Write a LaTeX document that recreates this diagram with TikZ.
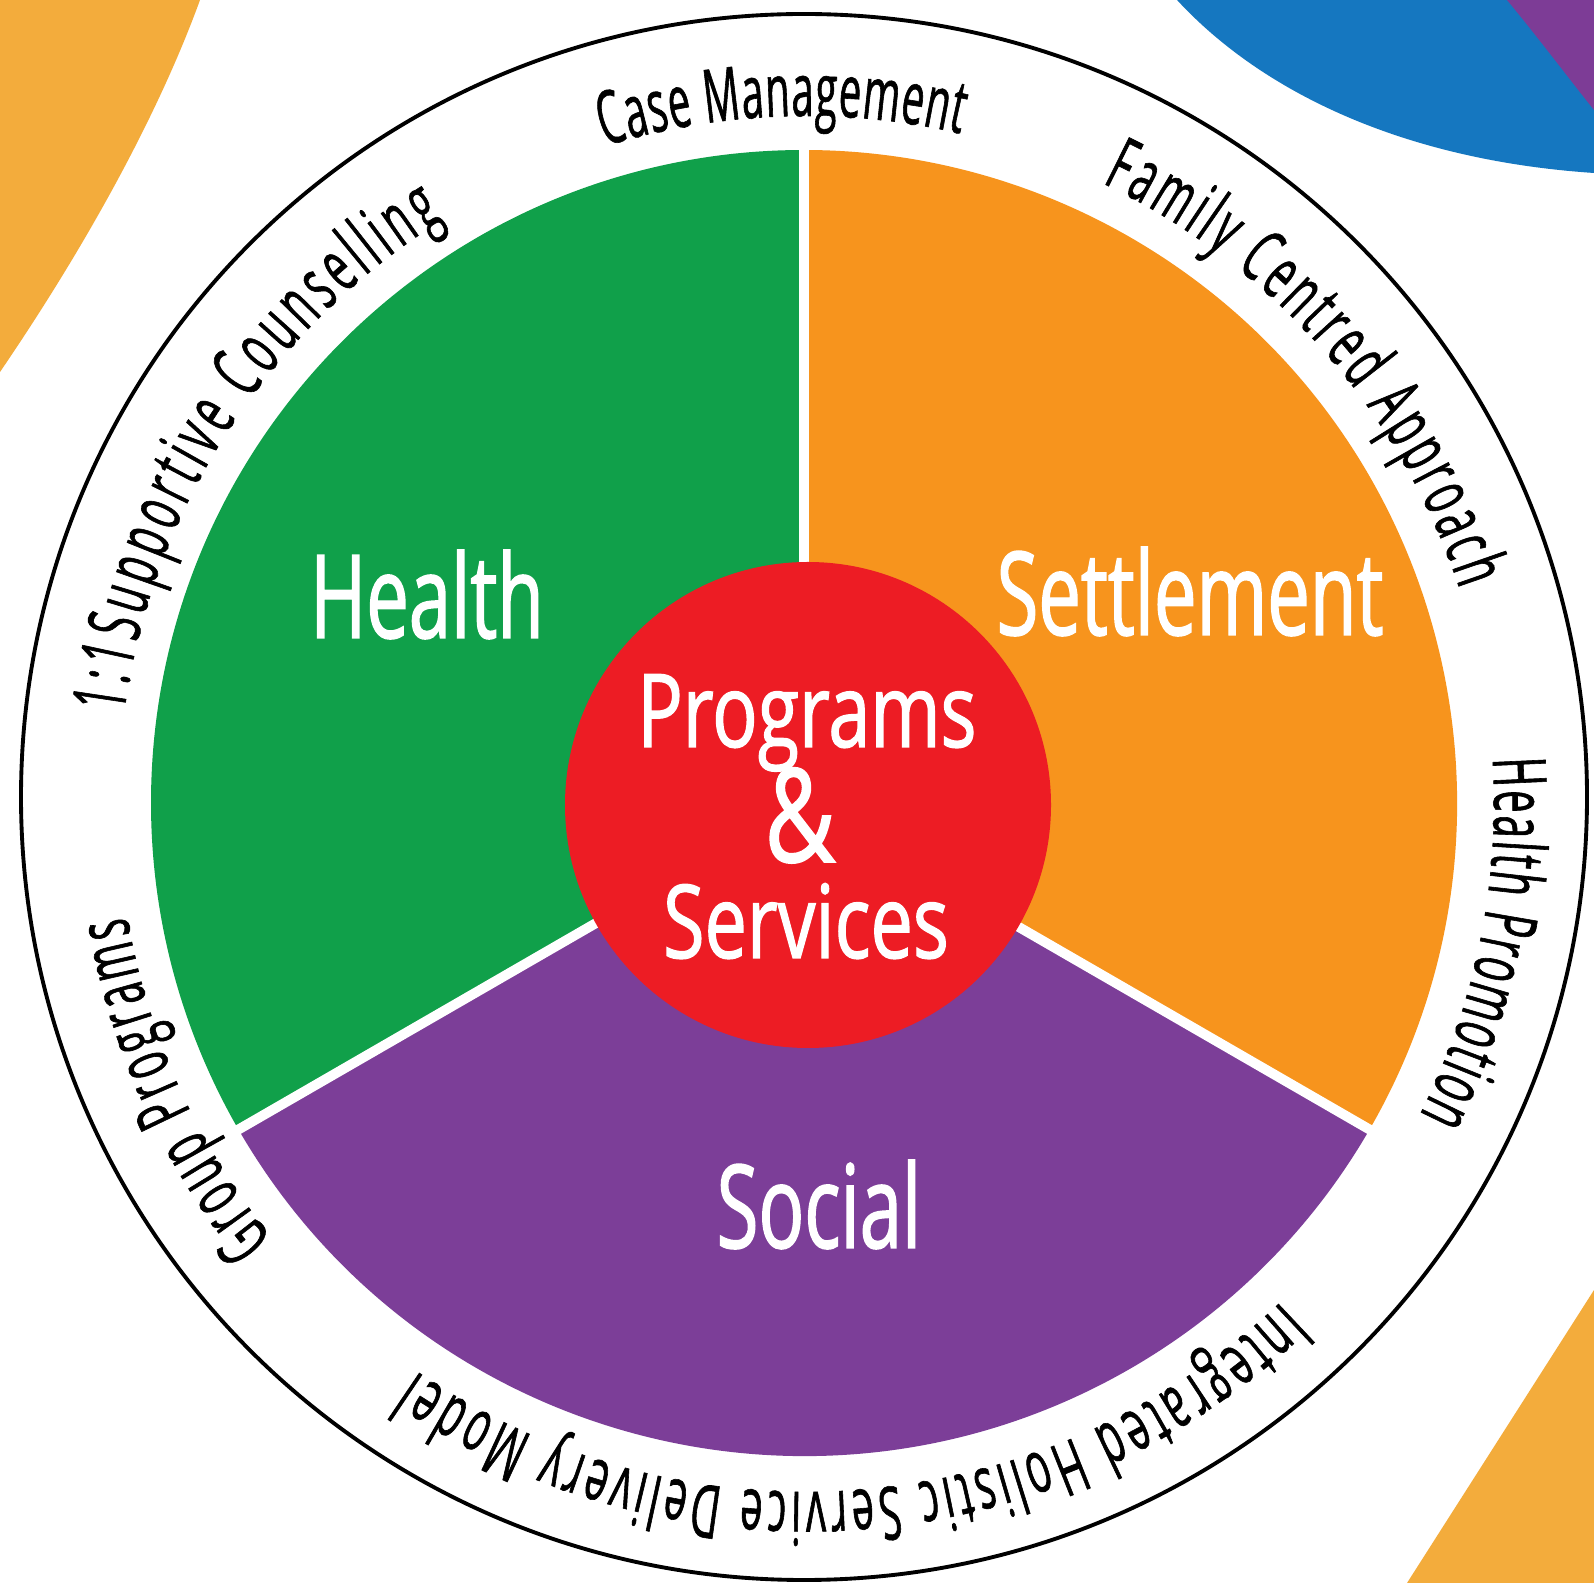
\documentclass[tikz,border=0pt]{standalone}
\usepackage{fontspec}
\usepackage{tikz}
\usetikzlibrary{decorations.text}
\newfontfamily\ringfont{Open Sans}[FakeStretch=0.54, FakeBold=0.8]
\newfontfamily\sectorfont{Open Sans}[FakeStretch=0.655, FakeBold=1.2]
\newfontfamily\hubfont{Open Sans}[FakeStretch=0.74, FakeBold=1.2]
\newcommand{\ringtext}{\ringfont\fontsize{21pt}{25pt}\selectfont}
\definecolor{healthgreen}{RGB}{16,160,74}
\definecolor{settleorange}{RGB}{247,148,29}
\definecolor{socialpurple}{RGB}{124,62,152}
\definecolor{hubred}{RGB}{237,28,36}
\definecolor{cornerorange}{RGB}{243,172,60}
\definecolor{cornerblue}{RGB}{21,119,192}
\definecolor{cornerpurple}{RGB}{125,60,150}

\begin{document}
\begin{tikzpicture}[x=0.01cm, y=0.01cm,
    sectorlabel/.style={text=white, font=\sectorfont\fontsize{33pt}{38pt}\selectfont, anchor=base, inner sep=0pt},
    hublabel/.style={text=white, font=\hubfont\fontsize{29pt}{34pt}\selectfont, anchor=base, inner sep=0pt},
    ringlabel/.style={decorate, decoration={text along path, text={|\ringtext|#1}, text align={fit to path}}}]
            % Page and corner swooshes
            \useasboundingbox (0,0) rectangle (1594,-1583);
            \fill[white] (0,0) rectangle (1594,-1583);
            \fill[cornerorange] (0,0) -- (200,0) .. controls (160,-110) and (90,-240) .. (0,-372) -- cycle;
            \fill[cornerblue] (1177,0) .. controls (1260,-90) and (1400,-160) .. (1594,-173) -- (1594,0) -- cycle;
            \fill[cornerpurple] (1507,0) .. controls (1540,-40) and (1570,-80) .. (1594,-110) -- (1594,0) -- cycle;
            \fill[cornerorange] (1594,-1290) -- (1407,-1583) -- (1594,-1583) -- cycle;
            % Define centres
            \coordinate (O) at (804,-797);
            \coordinate (I) at (804,-803);
            \coordinate (H) at (808,-805);
            \coordinate (T) at (806,-804);
            % Outer ring
            \draw[line width=1.1pt] (O) circle[radius=783];
            % Three sectors
            \fill[healthgreen] (I) -- ++(90:653) arc[start angle=90, end angle=210, radius=653] -- cycle;
            \fill[settleorange] (I) -- ++(-30:653) arc[start angle=-30, end angle=90, radius=653] -- cycle;
            \fill[socialpurple] (I) -- ++(210:653) arc[start angle=210, end angle=330, radius=653] -- cycle;
            \draw[white, line width=2.8pt] (I) -- ++(90:665);
            \draw[white, line width=2.8pt] (I) -- ++(210:665);
            \draw[white, line width=2.8pt] (I) -- ++(330:665);
            % Hub
            \fill[hubred] (H) circle[radius=243];
            % Label the sectors
            \node[sectorlabel] (health) at (427,-638) {Health};
            \node[sectorlabel] (settlement) at (1190,-635) {Settlement};
            \node[sectorlabel] (social) at (819,-1248) {Social};
            \node[hublabel] (programs) at (807,-747) {Programs};
            \node[hublabel, font=\hubfont\fontsize{37pt}{40pt}\selectfont] (amp) at (800,-862) {\&};
            \node[hublabel] (services) at (806,-958) {Services};
            % Text round the ring
            \path[ringlabel={Case Management}] ([shift={(T)}]107:688) arc[start angle=107, end angle=77, radius=688];
            \path[ringlabel={Family Centred Approach}] ([shift={(T)}]64.5:688) arc[start angle=64.5, end angle=18.2, radius=688];
            \path[ringlabel={Health Promotion}] ([shift={(T)}]3.8:688) arc[start angle=3.8, end angle=-26.9, radius=688];
            \path[ringlabel={Integrated Holistic Service Delivery Model}] ([shift={(T)}]-46.3:688) arc[start angle=-46.3, end angle=-124.4, radius=688];
            \path[ringlabel={Group Programs}] ([shift={(T)}]219.2:688) arc[start angle=219.2, end angle=189.4, radius=688];
            \path[ringlabel={1:1Supportive Counselling}] ([shift={(T)}]172.4:688) arc[start angle=172.4, end angle=121.8, radius=688];
          \end{tikzpicture}
\end{document}
